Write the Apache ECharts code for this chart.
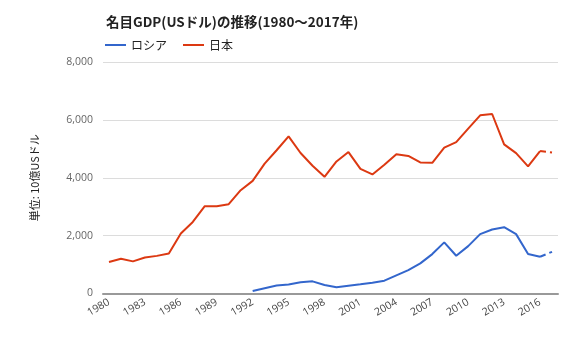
<!DOCTYPE html>
<html><head><meta charset="utf-8">
<script src="https://cdn.jsdelivr.net/npm/echarts@6/dist/echarts.min.js"></script>
<style>html,body{margin:0;padding:0;background:#fff}#c{width:570px;height:342px}</style>
</head><body><div id="c"></div>
<script>
const years = [];
for (let y = 1980; y <= 2017; y++) years.push(String(y));
const japan = [1086,1200,1110,1243,1300,1384,2075,2474,3017,3017,3086,3569,3891,4489,4950,5431,4856,4415,4033,4562,4887,4304,4115,4446,4815,4755,4530,4515,5038,5231,5700,6157,6203,5155,4850,4395,4924,4869];
const russia = [null,null,null,null,null,null,null,null,null,null,null,null,86,184,277,314,392,420,293,213,270,316,374,443,627,810,1040,1362,1766,1304,1638,2052,2213,2293,2052,1362,1270,1441];
const yTicks = [0,2000,4000,6000,8000];

function solidPart(arr){ return arr.map((v,i)=> i < arr.length-1 ? v : null); }
function dashPart(arr){ return arr.map((v,i)=> i >= arr.length-2 ? v : null); }

const chart = echarts.init(document.getElementById('c'));
const font = '"Noto Sans CJK JP", "Noto Sans", sans-serif';
chart.setOption({
  animation:false,
  textStyle:{fontFamily:font},
  title:{text:'名目GDP(USドル)の推移(1980〜2017年)',left:101,top:10,
    textStyle:{fontFamily:font,fontSize:13.5,fontWeight:'bold',color:'#222'}},
  legend:{data:['ロシア','日本'],left:100,top:34,itemWidth:21,itemHeight:2,itemGap:16,
    icon:'rect',textStyle:{fontFamily:font,fontSize:12,color:'#222'}},
  grid:{left:103,right:12,top:62,bottom:48.5,containLabel:false},
  xAxis:{type:'category',data:years,boundaryGap:true,
    axisLine:{lineStyle:{color:'#999',width:2}},axisTick:{show:false},
    axisLabel:{interval:2,rotate:30,fontSize:10.5,color:'#444',margin:8,fontFamily:'"Open Sans", "Noto Sans", sans-serif'}},
  yAxis:{type:'value',min:yTicks[0],max:yTicks[yTicks.length-1],interval:2000,
    name:'単位: 10億USドル',nameLocation:'middle',nameGap:63,nameRotate:90,
    nameTextStyle:{fontFamily:font,fontSize:11,color:'#222'},
    axisLine:{show:false},axisTick:{show:false},
    splitLine:{lineStyle:{color:'#dcdcdc',width:1}},
    axisLabel:{color:'#666',fontSize:10.5,margin:10,fontFamily:'"Open Sans", "Noto Sans", sans-serif',
      formatter:v=>v.toLocaleString('en-US')}},
  series:[
    {name:'ロシア',type:'line',data:solidPart(russia),symbol:'none',connectNulls:false,
      lineStyle:{color:'#3366cc',width:2},itemStyle:{color:'#3366cc'}},
    {name:'日本',type:'line',data:solidPart(japan),symbol:'none',
      lineStyle:{color:'#dc3912',width:2},itemStyle:{color:'#dc3912'}},
    {name:'ロシア',type:'line',data:dashPart(russia),symbol:'none',
      lineStyle:{color:'#3366cc',width:2,type:[6,4]},itemStyle:{color:'#3366cc'}},
    {name:'日本',type:'line',data:dashPart(japan),symbol:'none',
      lineStyle:{color:'#dc3912',width:2,type:[6,4]},itemStyle:{color:'#dc3912'}}
  ]
});
</script></body></html>
